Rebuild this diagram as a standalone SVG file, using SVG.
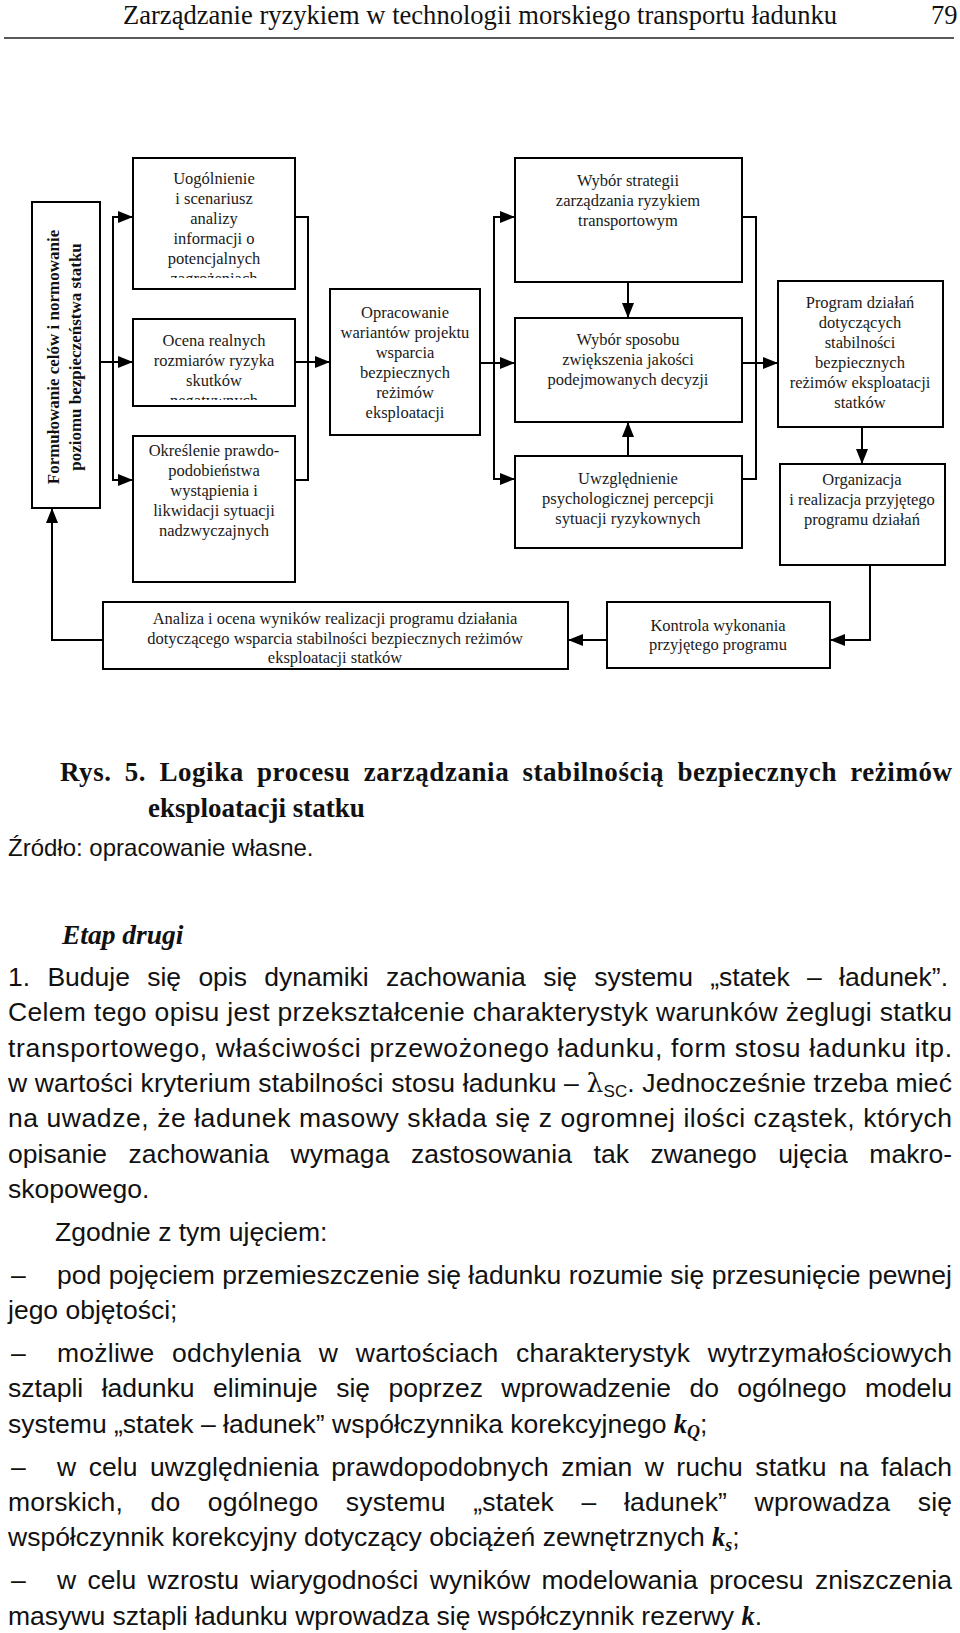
<svg xmlns="http://www.w3.org/2000/svg" width="960" height="1633" viewBox="0 0 960 1633">
<style>
.bx{fill:#fff;stroke:#000;stroke-width:2}
.t{font-family:"Liberation Serif","Times New Roman",serif;font-size:16.5px;text-anchor:middle;fill:#1a1a1a}
.c{fill:none;stroke:#000;stroke-width:2}
.hd{font-family:"Liberation Serif","Times New Roman",serif;font-size:26.5px;fill:#111}
.s{font-family:"Liberation Sans",Arial,sans-serif;font-size:26.5px;fill:#111}
.z{font-family:"Liberation Sans",Arial,sans-serif;font-size:24px;fill:#111}
.bb{font-family:"Liberation Serif","Times New Roman",serif;font-size:27px;font-weight:bold;fill:#111}
.bi{font-family:"Liberation Serif","Times New Roman",serif;font-size:27.5px;font-weight:bold;font-style:italic;fill:#111}
.vt{font-family:"Liberation Serif","Times New Roman",serif;font-size:17px;font-weight:bold;text-anchor:middle;fill:#111}
.k{font-family:"Liberation Serif","Times New Roman",serif;font-weight:bold;font-style:italic}
</style>
<defs>
<marker id="ah" viewBox="0 0 15 12" refX="15" refY="6" markerWidth="15" markerHeight="12" markerUnits="userSpaceOnUse" orient="auto">
<path d="M0,0 L15,6 L0,12 z" fill="#000"/>
</marker>
<clipPath id="cp1"><rect x="133" y="158" width="162" height="120"/></clipPath>
<clipPath id="cp2"><rect x="133" y="319" width="162" height="81"/></clipPath>
</defs>

<text class="hd" x="123" y="24" textLength="714" lengthAdjust="spacingAndGlyphs">Zarządzanie ryzykiem w technologii morskiego transportu ładunku</text>
<text class="hd" x="931" y="24">79</text>
<line x1="4" y1="38" x2="954" y2="38" stroke="#222" stroke-width="1.5"/>

<g id="connectors">
<polyline class="c" points="100,362 133,362" marker-end="url(#ah)"/>
<line class="c" x1="113" y1="216" x2="113" y2="481"/>
<polyline class="c" points="113,217 133,217" marker-end="url(#ah)"/>
<polyline class="c" points="113,480 133,480" marker-end="url(#ah)"/>
<polyline class="c" points="295,217 308,217 308,480 295,480"/>
<polyline class="c" points="295,362 330,362" marker-end="url(#ah)"/>
<polyline class="c" points="480,363 515,363" marker-end="url(#ah)"/>
<line class="c" x1="494" y1="216" x2="494" y2="480"/>
<polyline class="c" points="494,217 515,217" marker-end="url(#ah)"/>
<polyline class="c" points="494,479 515,479" marker-end="url(#ah)"/>
<polyline class="c" points="628,282 628,318" marker-end="url(#ah)"/>
<polyline class="c" points="628,456 628,422" marker-end="url(#ah)"/>
<polyline class="c" points="742,217 756,217 756,479 742,479"/>
<polyline class="c" points="742,363 778,363" marker-end="url(#ah)"/>
<polyline class="c" points="862,427 862,464" marker-end="url(#ah)"/>
<polyline class="c" points="870,565 870,640 830,640" marker-end="url(#ah)"/>
<polyline class="c" points="607,640 568,640" marker-end="url(#ah)"/>
<polyline class="c" points="103,640 52,640 52,508" marker-end="url(#ah)"/>
</g>

<g id="n-formulowanie">
<rect class="bx" x="32" y="202" width="68" height="306"/>
<text class="vt" transform="translate(59,357) rotate(-90)">Formułowanie celów i normowanie</text>
<text class="vt" transform="translate(81,357) rotate(-90)">poziomu bezpieczeństwa statku</text>
</g>

<g id="n-uogolnienie">
<rect class="bx" x="133" y="158" width="162" height="131"/>
<g clip-path="url(#cp1)">
<text class="t" x="214" y="184">Uogólnienie</text>
<text class="t" x="214" y="204">i scenariusz</text>
<text class="t" x="214" y="224">analizy</text>
<text class="t" x="214" y="244">informacji o</text>
<text class="t" x="214" y="264">potencjalnych</text>
<text class="t" x="214" y="284">zagrożeniach</text>
</g>
</g>

<g id="n-ocena">
<rect class="bx" x="133" y="319" width="162" height="87"/>
<g clip-path="url(#cp2)">
<text class="t" x="214" y="346">Ocena realnych</text>
<text class="t" x="214" y="366">rozmiarów ryzyka</text>
<text class="t" x="214" y="386">skutków</text>
<text class="t" x="214" y="406">negatywnych</text>
</g>
</g>

<g id="n-okreslenie">
<rect class="bx" x="133" y="436" width="162" height="146"/>
<text class="t" x="214" y="456">Określenie prawdo-</text>
<text class="t" x="214" y="476">podobieństwa</text>
<text class="t" x="214" y="496">wystąpienia i</text>
<text class="t" x="214" y="516">likwidacji sytuacji</text>
<text class="t" x="214" y="536">nadzwyczajnych</text>
</g>

<g id="n-opracowanie">
<rect class="bx" x="330" y="289" width="150" height="146"/>
<text class="t" x="405" y="318">Opracowanie</text>
<text class="t" x="405" y="338">wariantów projektu</text>
<text class="t" x="405" y="358">wsparcia</text>
<text class="t" x="405" y="378">bezpiecznych</text>
<text class="t" x="405" y="398">reżimów</text>
<text class="t" x="405" y="418">eksploatacji</text>
</g>

<g id="n-strategia">
<rect class="bx" x="515" y="158" width="227" height="124"/>
<text class="t" x="628" y="186">Wybór strategii</text>
<text class="t" x="628" y="206">zarządzania ryzykiem</text>
<text class="t" x="628" y="226">transportowym</text>
</g>

<g id="n-sposob">
<rect class="bx" x="515" y="318" width="227" height="104"/>
<text class="t" x="628" y="345">Wybór sposobu</text>
<text class="t" x="628" y="365">zwiększenia jakości</text>
<text class="t" x="628" y="385">podejmowanych decyzji</text>
</g>

<g id="n-uwzglednienie">
<rect class="bx" x="515" y="456" width="227" height="92"/>
<text class="t" x="628" y="484">Uwzględnienie</text>
<text class="t" x="628" y="504">psychologicznej percepcji</text>
<text class="t" x="628" y="524">sytuacji ryzykownych</text>
</g>

<g id="n-program">
<rect class="bx" x="778" y="281" width="165" height="146"/>
<text class="t" x="860" y="308">Program działań</text>
<text class="t" x="860" y="328">dotyczących</text>
<text class="t" x="860" y="348">stabilności</text>
<text class="t" x="860" y="368">bezpiecznych</text>
<text class="t" x="860" y="388">reżimów eksploatacji</text>
<text class="t" x="860" y="408">statków</text>
</g>

<g id="n-organizacja">
<rect class="bx" x="780" y="464" width="165" height="101"/>
<text class="t" x="862" y="485">Organizacja</text>
<text class="t" x="862" y="505">i realizacja przyjętego</text>
<text class="t" x="862" y="525">programu działań</text>
</g>

<g id="n-kontrola">
<rect class="bx" x="607" y="602" width="223" height="66"/>
<text class="t" x="718" y="631">Kontrola wykonania</text>
<text class="t" x="718" y="650">przyjętego programu</text>
</g>

<g id="n-analiza">
<rect class="bx" x="103" y="602" width="465" height="67"/>
<text class="t" x="335" y="624">Analiza i ocena wyników realizacji programu działania</text>
<text class="t" x="335" y="644">dotyczącego wsparcia stabilności bezpiecznych reżimów</text>
<text class="t" x="335" y="663">eksploatacji statków</text>
</g>

<text class="bb" x="60" y="781" word-spacing="6" textLength="892" lengthAdjust="spacing">Rys.  5.  Logika procesu zarządzania stabilnością bezpiecznych reżimów</text>
<text class="bb" x="148" y="817">eksploatacji statku</text>
<text class="z" x="8" y="856">Źródło: opracowanie własne.</text>
<text class="bi" x="62" y="944">Etap drugi</text>

<text class="s" x="8" y="986" word-spacing="10" textLength="940" lengthAdjust="spacing">1. Buduje się opis dynamiki zachowania się systemu „statek – ładunek”.</text>
<text class="s" x="8" y="1021.3" textLength="944" lengthAdjust="spacing">Celem tego opisu jest przekształcenie charakterystyk warunków żeglugi statku</text>
<text class="s" x="8" y="1056.6" textLength="944" lengthAdjust="spacing">transportowego, właściwości przewożonego ładunku, form stosu ładunku itp.</text>
<text class="s" x="8" y="1091.9" textLength="944" lengthAdjust="spacing">w wartości kryterium stabilności stosu ładunku – <tspan font-family="DejaVu Serif">λ</tspan><tspan font-size="17" dy="5">SC</tspan><tspan dy="-5">. Jednocześnie trzeba mieć</tspan></text>
<text class="s" x="8" y="1127.2" textLength="944" lengthAdjust="spacing">na uwadze, że ładunek masowy składa się z ogromnej ilości cząstek, których</text>
<text class="s" x="8" y="1162.5" word-spacing="14" textLength="944" lengthAdjust="spacing">opisanie zachowania wymaga zastosowania tak zwanego ujęcia makro-</text>
<text class="s" x="8" y="1197.8">skopowego.</text>
<text class="s" x="55" y="1240.8">Zgodnie z tym ujęciem:</text>
<text class="s" x="11" y="1283.8">–</text>
<text class="s" x="57" y="1283.8" textLength="895" lengthAdjust="spacing">pod pojęciem przemieszczenie się ładunku rozumie się przesunięcie pewnej</text>
<text class="s" x="8" y="1319.1">jego objętości;</text>
<text class="s" x="11" y="1362.1">–</text>
<text class="s" x="57" y="1362.1" word-spacing="10" textLength="895" lengthAdjust="spacing">możliwe odchylenia w wartościach charakterystyk wytrzymałościowych</text>
<text class="s" x="8" y="1397.4" word-spacing="11" textLength="944" lengthAdjust="spacing">sztapli ładunku eliminuje się poprzez wprowadzenie do ogólnego modelu</text>
<text class="s" x="8" y="1432.7">systemu „statek – ładunek” współczynnika korekcyjnego <tspan class="k">k</tspan><tspan class="k" font-size="18" dy="5">Q</tspan><tspan dy="-5">;</tspan></text>
<text class="s" x="11" y="1475.7">–</text>
<text class="s" x="57" y="1475.7" word-spacing="5" textLength="895" lengthAdjust="spacing">w celu uwzględnienia prawdopodobnych zmian w ruchu statku na falach</text>
<text class="s" x="8" y="1511" word-spacing="20" textLength="944" lengthAdjust="spacing">morskich, do ogólnego systemu „statek – ładunek” wprowadza się</text>
<text class="s" x="8" y="1546.3">współczynnik korekcyjny dotyczący obciążeń zewnętrznych <tspan class="k">k</tspan><tspan class="k" font-size="18" dy="5">s</tspan><tspan dy="-5">;</tspan></text>
<text class="s" x="11" y="1589.3">–</text>
<text class="s" x="57" y="1589.3" word-spacing="4" textLength="895" lengthAdjust="spacing">w celu wzrostu wiarygodności wyników modelowania procesu zniszczenia</text>
<text class="s" x="8" y="1624.6">masywu sztapli ładunku wprowadza się współczynnik rezerwy <tspan class="k">k</tspan>.</text>
</svg>
